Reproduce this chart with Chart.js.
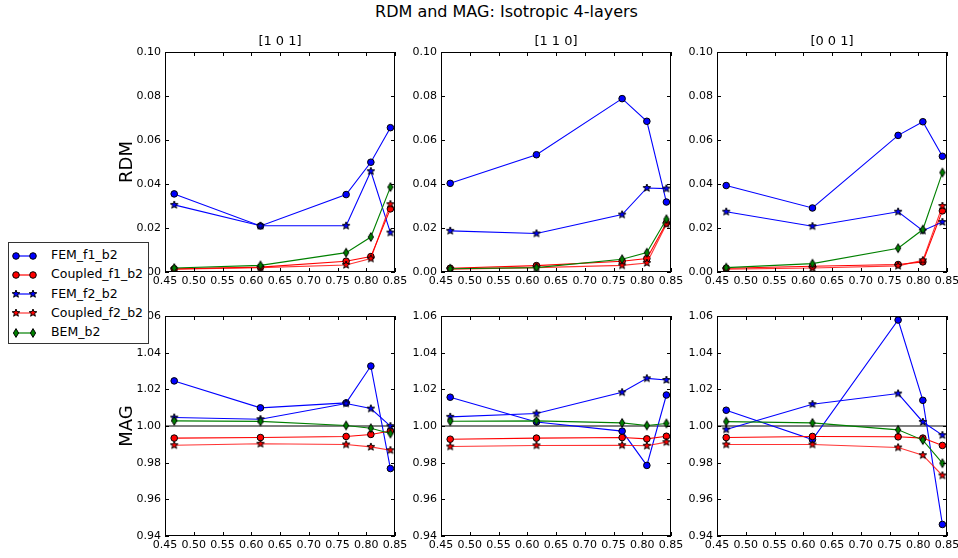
<!DOCTYPE html>
<html><head><meta charset="utf-8">
<script src="https://cdn.jsdelivr.net/npm/chart.js@4/dist/chart.umd.min.js"></script>
<style>
body{margin:0;background:#fff;width:958px;height:558px;overflow:hidden;position:relative;font-family:"DejaVu Sans",sans-serif;}
canvas.c{position:absolute;}
#title{position:absolute;left:0;width:1013px;top:2px;text-align:center;font-size:16px;color:#000;}
#legend{position:absolute;left:8px;top:242px;width:139px;height:100px;border:1px solid #333;background:#fff;z-index:10;}
#legend .sw{position:absolute;left:3px;}
#legend .tx{position:absolute;left:42px;font-size:12.5px;line-height:16px;color:#000;white-space:nowrap;}
</style></head>
<body>
<div id="title">RDM and MAG: Isotropic 4-layers</div>
<div id="legend"></div>
<script>
// ---------- data ----------
const xVals = [0.466, 0.616, 0.765, 0.808, 0.842];
const seriesNames = ['FEM_f1_b2', 'Coupled_f1_b2', 'FEM_f2_b2', 'Coupled_f2_b2', 'BEM_b2'];
const panelTitles = ['[1 0 1]', '[1 1 0]', '[0 0 1]'];
const rowTitles = ['RDM', 'MAG'];
const xTicks = [0.45, 0.50, 0.55, 0.60, 0.65, 0.70, 0.75, 0.80, 0.85];
const rdmTicks = [0.00, 0.02, 0.04, 0.06, 0.08, 0.10];
const magTicks = [0.94, 0.96, 0.98, 1.00, 1.02, 1.04, 1.06];
const magReference = 1.0;

// RDM, [1 0 1]
const rdm101_FEM_f1     = [0.0355, 0.0209, 0.0352, 0.0499, 0.0656];
const rdm101_Coupled_f1 = [0.0014, 0.0022, 0.0049, 0.0070, 0.0287];
const rdm101_FEM_f2     = [0.0305, 0.0210, 0.0210, 0.0458, 0.0179];
const rdm101_Coupled_f2 = [0.0013, 0.0020, 0.0032, 0.0061, 0.0308];
const rdm101_BEM        = [0.0018, 0.0030, 0.0088, 0.0159, 0.0386];
// RDM, [1 1 0]
const rdm110_FEM_f1     = [0.0403, 0.0533, 0.0788, 0.0685, 0.0318];
const rdm110_Coupled_f1 = [0.0017, 0.0029, 0.0049, 0.0061, 0.0223];
const rdm110_FEM_f2     = [0.0187, 0.0175, 0.0261, 0.0382, 0.0379];
const rdm110_Coupled_f2 = [0.0013, 0.0020, 0.0030, 0.0041, 0.0217];
const rdm110_BEM        = [0.0015, 0.0020, 0.0058, 0.0088, 0.0240];
// RDM, [0 0 1]
const rdm001_FEM_f1     = [0.0393, 0.0291, 0.0621, 0.0683, 0.0526];
const rdm001_Coupled_f1 = [0.0017, 0.0026, 0.0034, 0.0046, 0.0278];
const rdm001_FEM_f2     = [0.0274, 0.0208, 0.0274, 0.0188, 0.0227];
const rdm001_Coupled_f2 = [0.0013, 0.0018, 0.0028, 0.0053, 0.0300];
const rdm001_BEM        = [0.0020, 0.0038, 0.0108, 0.0193, 0.0452];
// MAG, [1 0 1]
const mag101_FEM_f1     = [1.0246, 1.0099, 1.0126, 1.0327, 0.9768];
const mag101_Coupled_f1 = [0.9934, 0.9937, 0.9943, 0.9954, 0.9973];
const mag101_FEM_f2     = [1.0046, 1.0037, 1.0123, 1.0095, 0.9999];
const mag101_Coupled_f2 = [0.9895, 0.9903, 0.9899, 0.9886, 0.9868];
const mag101_BEM        = [1.0028, 1.0025, 1.0003, 0.9988, 0.9959];
// MAG, [1 1 0]
const mag110_FEM_f1     = [1.0157, 1.0022, 0.9972, 0.9785, 1.0169];
const mag110_Coupled_f1 = [0.9928, 0.9934, 0.9937, 0.9930, 0.9944];
const mag110_FEM_f2     = [1.0050, 1.0068, 1.0184, 1.0260, 1.0251];
const mag110_Coupled_f2 = [0.9888, 0.9894, 0.9895, 0.9892, 0.9912];
const mag110_BEM        = [1.0026, 1.0028, 1.0017, 1.0003, 1.0014];
// MAG, [0 0 1]
const mag001_FEM_f1     = [1.0086, 0.9926, 1.0578, 1.0140, 0.9463];
const mag001_Coupled_f1 = [0.9937, 0.9943, 0.9941, 0.9934, 0.9894];
const mag001_FEM_f2     = [0.9981, 1.0119, 1.0177, 1.0022, 0.9950];
const mag001_Coupled_f2 = [0.9899, 0.9899, 0.9883, 0.9841, 0.9730];
const mag001_BEM        = [1.0024, 1.0017, 0.9979, 0.9923, 0.9797];

const panelData = [
  [ [rdm101_FEM_f1, rdm101_Coupled_f1, rdm101_FEM_f2, rdm101_Coupled_f2, rdm101_BEM],
    [rdm110_FEM_f1, rdm110_Coupled_f1, rdm110_FEM_f2, rdm110_Coupled_f2, rdm110_BEM],
    [rdm001_FEM_f1, rdm001_Coupled_f1, rdm001_FEM_f2, rdm001_Coupled_f2, rdm001_BEM] ],
  [ [mag101_FEM_f1, mag101_Coupled_f1, mag101_FEM_f2, mag101_Coupled_f2, mag101_BEM],
    [mag110_FEM_f1, mag110_Coupled_f1, mag110_FEM_f2, mag110_Coupled_f2, mag110_BEM],
    [mag001_FEM_f1, mag001_Coupled_f1, mag001_FEM_f2, mag001_Coupled_f2, mag001_BEM] ]
];

// ---------- styles ----------
const FONT = 'DejaVu Sans';
const lineColors = ['#0000ff', '#ff0000', '#0000ff', 'rgba(255,0,0,0.8)', '#008000'];
const fillColors = ['#0000ff', '#ff0000', '#0000ff', '#ff0000', '#008000'];
const markerKinds = ['circle', 'circle', 'star', 'star', 'thin'];

function drawMarker(ctx, kind, x, y, fill) {
  ctx.save();
  ctx.fillStyle = fill; ctx.strokeStyle = '#000'; ctx.lineWidth = 1;
  ctx.beginPath();
  if (kind === 'circle') {
    ctx.arc(x, y, 3.3, 0, Math.PI * 2);
  } else if (kind === 'star') {
    const R = 4.0, r = 1.7;
    for (let i = 0; i < 10; i++) {
      const a = -Math.PI / 2 + i * Math.PI / 5;
      const rr = i % 2 ? r : R;
      const px = x + rr * Math.cos(a), py = y + rr * Math.sin(a);
      i ? ctx.lineTo(px, py) : ctx.moveTo(px, py);
    }
    ctx.closePath();
  } else {
    ctx.moveTo(x, y - 4.4); ctx.lineTo(x + 2.6, y); ctx.lineTo(x, y + 4.4); ctx.lineTo(x - 2.6, y);
    ctx.closePath();
  }
  ctx.fill(); ctx.stroke();
  ctx.restore();
}
function markerImage(kind, fill) {
  const c = document.createElement('canvas');
  c.width = 12; c.height = 12;
  drawMarker(c.getContext('2d'), kind, 6, 6, fill);
  return c;
}
const pointStyles = markerKinds.map((k, i) => k === 'circle' ? 'circle' : markerImage(k, fillColors[i]));

// ---------- legend ----------
(function () {
  const lg = document.getElementById('legend');
  seriesNames.forEach((name, i) => {
    const cy = 12.7 + i * 19.2;
    const c = document.createElement('canvas');
    c.className = 'sw'; c.width = 26; c.height = 14;
    c.style.top = (cy - 7) + 'px';
    const ctx = c.getContext('2d');
    ctx.strokeStyle = lineColors[i]; ctx.lineWidth = 1.2;
    ctx.beginPath(); ctx.moveTo(4, 7); ctx.lineTo(21, 7); ctx.stroke();
    drawMarker(ctx, markerKinds[i], 4, 7, fillColors[i]);
    drawMarker(ctx, markerKinds[i], 21, 7, fillColors[i]);
    lg.appendChild(c);
    const t = document.createElement('div');
    t.className = 'tx'; t.textContent = name; t.style.top = (cy - 8.5) + 'px';
    lg.appendChild(t);
  });
})();

// ---------- frame / ticks / subplot title plugin ----------
const framePlugin = {
  id: 'frame',
  afterDatasetsDraw(chart, args, opts) {
    const { ctx, chartArea: a, scales } = chart;
    ctx.save();
    ctx.strokeStyle = '#000'; ctx.lineWidth = 1;
    ctx.strokeRect(a.left + 0.5, a.top + 0.5, a.right - a.left - 1, a.bottom - a.top - 1);
    ctx.beginPath();
    scales.x.ticks.forEach(t => {
      const px = Math.round(scales.x.getPixelForValue(t.value)) + 0.5;
      ctx.moveTo(px, a.bottom); ctx.lineTo(px, a.bottom - 4);
      ctx.moveTo(px, a.top); ctx.lineTo(px, a.top + 4);
    });
    scales.y.ticks.forEach(t => {
      const py = Math.round(scales.y.getPixelForValue(t.value)) + 0.5;
      ctx.moveTo(a.left, py); ctx.lineTo(a.left + 4, py);
      ctx.moveTo(a.right, py); ctx.lineTo(a.right - 4, py);
    });
    ctx.stroke();
    if (opts.title) {
      ctx.fillStyle = '#000';
      ctx.font = '13px "' + FONT + '"';
      ctx.textAlign = 'center'; ctx.textBaseline = 'alphabetic';
      ctx.fillText(opts.title, (a.left + a.right) / 2, a.top - 7);
    }
    ctx.restore();
  }
};

// ---------- panels ----------
const colLefts = [165, 441, 717];
const rowTops = [52, 316];
const W = 230, H = 220, padTop = 26, padRight = 16, xh = 20;

for (let r = 0; r < 2; r++) {
  for (let c = 0; c < 3; c++) {
    const yw = c === 0 ? 52 : 45;
    const cv = document.createElement('canvas');
    cv.className = 'c';
    cv.width = yw + W + padRight; cv.height = padTop + H + xh;
    cv.style.left = (colLefts[c] - yw) + 'px';
    cv.style.top = (rowTops[r] - padTop) + 'px';
    document.body.appendChild(cv);

    const yTicks = r === 0 ? rdmTicks : magTicks;
    const datasets = seriesNames.map((name, i) => ({
      label: name,
      data: xVals.map((x, k) => ({ x: x, y: panelData[r][c][i][k] })),
      borderColor: lineColors[i],
      borderWidth: 1.1,
      pointStyle: pointStyles[i],
      pointRadius: 3.3,
      pointBackgroundColor: fillColors[i],
      pointBorderColor: '#000',
      pointBorderWidth: 1,
      fill: false, tension: 0,
      order: 5 - i
    }));
    if (r === 1) {
      datasets.push({
        label: 'ref',
        data: [{ x: xTicks[0], y: magReference }, { x: xTicks[xTicks.length - 1], y: magReference }],
        borderColor: '#7f7f7f', borderWidth: 2, pointRadius: 0, fill: false, order: 10
      });
    }
    new Chart(cv, {
      type: 'line',
      data: { datasets },
      plugins: [framePlugin],
      options: {
        responsive: false, animation: false, devicePixelRatio: 1,
        layout: { padding: { top: padTop, right: padRight, left: 0, bottom: 0 } },
        plugins: {
          legend: { display: false }, tooltip: { enabled: false }, title: { display: false },
          frame: { title: r === 0 ? panelTitles[c] : null }
        },
        scales: {
          x: {
            type: 'linear', min: xTicks[0], max: xTicks[xTicks.length - 1],
            grid: { display: false, drawTicks: false }, border: { display: false },
            ticks: { font: { family: FONT, size: 11 }, color: '#000', padding: 3, maxRotation: 0, autoSkip: false,
                     callback: v => v.toFixed(2) },
            afterBuildTicks: s => { s.ticks = xTicks.map(v => ({ value: v })); },
            afterFit: s => { s.height = xh; s.paddingLeft = 0; s.paddingRight = 0; }
          },
          y: {
            type: 'linear', min: yTicks[0], max: yTicks[yTicks.length - 1],
            grid: { display: false, drawTicks: false }, border: { display: false },
            ticks: { font: { family: FONT, size: 11 }, color: '#000', padding: 4, autoSkip: false,
                     callback: v => v.toFixed(2) },
            title: { display: c === 0, text: rowTitles[r], color: '#000',
                     font: { family: FONT, size: 18 }, padding: { top: 4, bottom: 0 } },
            afterBuildTicks: s => { s.ticks = yTicks.map(v => ({ value: v })); },
            afterFit: s => { s.width = yw; s.paddingTop = 0; s.paddingBottom = 0; }
          }
        }
      }
    });
  }
}
</script>
</body></html>
